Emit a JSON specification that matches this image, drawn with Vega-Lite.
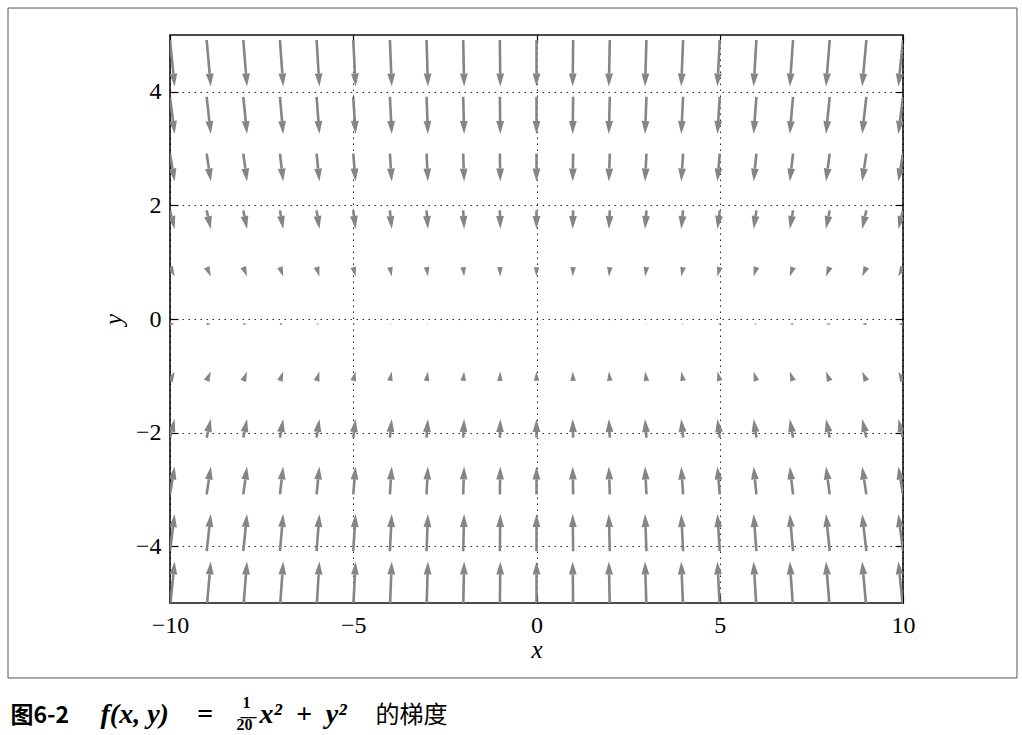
{
  "$schema": "https://vega.github.io/schema/vega-lite/v6.json",
  "width": 733,
  "height": 568,
  "autosize": {"type": "none"},
  "padding": {"left": 170, "top": 35, "right": 119, "bottom": 132},
  "background": "white",
  "config": {
    "view": {"stroke": "#111111", "strokeWidth": 1.6},
    "axis": {"labelColor": "#000", "titleColor": "#000"}
  },
  "data": {"values": [
{"x":-10,"y":5,"u":1,"v":-10},{"x":-9,"y":5,"u":0.9,"v":-10},{"x":-8,"y":5,"u":0.8,"v":-10},{"x":-7,"y":5,"u":0.7,"v":-10},{"x":-6,"y":5,"u":0.6,"v":-10},{"x":-5,"y":5,"u":0.5,"v":-10},{"x":-4,"y":5,"u":0.4,"v":-10},{"x":-3,"y":5,"u":0.3,"v":-10},{"x":-2,"y":5,"u":0.2,"v":-10},{"x":-1,"y":5,"u":0.1,"v":-10},{"x":0,"y":5,"u":0,"v":-10},{"x":1,"y":5,"u":-0.1,"v":-10},{"x":2,"y":5,"u":-0.2,"v":-10},{"x":3,"y":5,"u":-0.3,"v":-10},{"x":4,"y":5,"u":-0.4,"v":-10},{"x":5,"y":5,"u":-0.5,"v":-10},{"x":6,"y":5,"u":-0.6,"v":-10},{"x":7,"y":5,"u":-0.7,"v":-10},{"x":8,"y":5,"u":-0.8,"v":-10},{"x":9,"y":5,"u":-0.9,"v":-10},{"x":10,"y":5,"u":-1,"v":-10},
{"x":-10,"y":4,"u":1,"v":-8},{"x":-9,"y":4,"u":0.9,"v":-8},{"x":-8,"y":4,"u":0.8,"v":-8},{"x":-7,"y":4,"u":0.7,"v":-8},{"x":-6,"y":4,"u":0.6,"v":-8},{"x":-5,"y":4,"u":0.5,"v":-8},{"x":-4,"y":4,"u":0.4,"v":-8},{"x":-3,"y":4,"u":0.3,"v":-8},{"x":-2,"y":4,"u":0.2,"v":-8},{"x":-1,"y":4,"u":0.1,"v":-8},{"x":0,"y":4,"u":0,"v":-8},{"x":1,"y":4,"u":-0.1,"v":-8},{"x":2,"y":4,"u":-0.2,"v":-8},{"x":3,"y":4,"u":-0.3,"v":-8},{"x":4,"y":4,"u":-0.4,"v":-8},{"x":5,"y":4,"u":-0.5,"v":-8},{"x":6,"y":4,"u":-0.6,"v":-8},{"x":7,"y":4,"u":-0.7,"v":-8},{"x":8,"y":4,"u":-0.8,"v":-8},{"x":9,"y":4,"u":-0.9,"v":-8},{"x":10,"y":4,"u":-1,"v":-8},
{"x":-10,"y":3,"u":1,"v":-6},{"x":-9,"y":3,"u":0.9,"v":-6},{"x":-8,"y":3,"u":0.8,"v":-6},{"x":-7,"y":3,"u":0.7,"v":-6},{"x":-6,"y":3,"u":0.6,"v":-6},{"x":-5,"y":3,"u":0.5,"v":-6},{"x":-4,"y":3,"u":0.4,"v":-6},{"x":-3,"y":3,"u":0.3,"v":-6},{"x":-2,"y":3,"u":0.2,"v":-6},{"x":-1,"y":3,"u":0.1,"v":-6},{"x":0,"y":3,"u":0,"v":-6},{"x":1,"y":3,"u":-0.1,"v":-6},{"x":2,"y":3,"u":-0.2,"v":-6},{"x":3,"y":3,"u":-0.3,"v":-6},{"x":4,"y":3,"u":-0.4,"v":-6},{"x":5,"y":3,"u":-0.5,"v":-6},{"x":6,"y":3,"u":-0.6,"v":-6},{"x":7,"y":3,"u":-0.7,"v":-6},{"x":8,"y":3,"u":-0.8,"v":-6},{"x":9,"y":3,"u":-0.9,"v":-6},{"x":10,"y":3,"u":-1,"v":-6},
{"x":-10,"y":2,"u":1,"v":-4},{"x":-9,"y":2,"u":0.9,"v":-4},{"x":-8,"y":2,"u":0.8,"v":-4},{"x":-7,"y":2,"u":0.7,"v":-4},{"x":-6,"y":2,"u":0.6,"v":-4},{"x":-5,"y":2,"u":0.5,"v":-4},{"x":-4,"y":2,"u":0.4,"v":-4},{"x":-3,"y":2,"u":0.3,"v":-4},{"x":-2,"y":2,"u":0.2,"v":-4},{"x":-1,"y":2,"u":0.1,"v":-4},{"x":0,"y":2,"u":0,"v":-4},{"x":1,"y":2,"u":-0.1,"v":-4},{"x":2,"y":2,"u":-0.2,"v":-4},{"x":3,"y":2,"u":-0.3,"v":-4},{"x":4,"y":2,"u":-0.4,"v":-4},{"x":5,"y":2,"u":-0.5,"v":-4},{"x":6,"y":2,"u":-0.6,"v":-4},{"x":7,"y":2,"u":-0.7,"v":-4},{"x":8,"y":2,"u":-0.8,"v":-4},{"x":9,"y":2,"u":-0.9,"v":-4},{"x":10,"y":2,"u":-1,"v":-4},
{"x":-10,"y":1,"u":1,"v":-2},{"x":-9,"y":1,"u":0.9,"v":-2},{"x":-8,"y":1,"u":0.8,"v":-2},{"x":-7,"y":1,"u":0.7,"v":-2},{"x":-6,"y":1,"u":0.6,"v":-2},{"x":-5,"y":1,"u":0.5,"v":-2},{"x":-4,"y":1,"u":0.4,"v":-2},{"x":-3,"y":1,"u":0.3,"v":-2},{"x":-2,"y":1,"u":0.2,"v":-2},{"x":-1,"y":1,"u":0.1,"v":-2},{"x":0,"y":1,"u":0,"v":-2},{"x":1,"y":1,"u":-0.1,"v":-2},{"x":2,"y":1,"u":-0.2,"v":-2},{"x":3,"y":1,"u":-0.3,"v":-2},{"x":4,"y":1,"u":-0.4,"v":-2},{"x":5,"y":1,"u":-0.5,"v":-2},{"x":6,"y":1,"u":-0.6,"v":-2},{"x":7,"y":1,"u":-0.7,"v":-2},{"x":8,"y":1,"u":-0.8,"v":-2},{"x":9,"y":1,"u":-0.9,"v":-2},{"x":10,"y":1,"u":-1,"v":-2},
{"x":-10,"y":0,"u":1,"v":0},{"x":-9,"y":0,"u":0.9,"v":0},{"x":-8,"y":0,"u":0.8,"v":0},{"x":-7,"y":0,"u":0.7,"v":0},{"x":-6,"y":0,"u":0.6,"v":0},{"x":-5,"y":0,"u":0.5,"v":0},{"x":-4,"y":0,"u":0.4,"v":0},{"x":-3,"y":0,"u":0.3,"v":0},{"x":-2,"y":0,"u":0.2,"v":0},{"x":-1,"y":0,"u":0.1,"v":0},{"x":0,"y":0,"u":0,"v":0},{"x":1,"y":0,"u":-0.1,"v":0},{"x":2,"y":0,"u":-0.2,"v":0},{"x":3,"y":0,"u":-0.3,"v":0},{"x":4,"y":0,"u":-0.4,"v":0},{"x":5,"y":0,"u":-0.5,"v":0},{"x":6,"y":0,"u":-0.6,"v":0},{"x":7,"y":0,"u":-0.7,"v":0},{"x":8,"y":0,"u":-0.8,"v":0},{"x":9,"y":0,"u":-0.9,"v":0},{"x":10,"y":0,"u":-1,"v":0},
{"x":-10,"y":-1,"u":1,"v":2},{"x":-9,"y":-1,"u":0.9,"v":2},{"x":-8,"y":-1,"u":0.8,"v":2},{"x":-7,"y":-1,"u":0.7,"v":2},{"x":-6,"y":-1,"u":0.6,"v":2},{"x":-5,"y":-1,"u":0.5,"v":2},{"x":-4,"y":-1,"u":0.4,"v":2},{"x":-3,"y":-1,"u":0.3,"v":2},{"x":-2,"y":-1,"u":0.2,"v":2},{"x":-1,"y":-1,"u":0.1,"v":2},{"x":0,"y":-1,"u":0,"v":2},{"x":1,"y":-1,"u":-0.1,"v":2},{"x":2,"y":-1,"u":-0.2,"v":2},{"x":3,"y":-1,"u":-0.3,"v":2},{"x":4,"y":-1,"u":-0.4,"v":2},{"x":5,"y":-1,"u":-0.5,"v":2},{"x":6,"y":-1,"u":-0.6,"v":2},{"x":7,"y":-1,"u":-0.7,"v":2},{"x":8,"y":-1,"u":-0.8,"v":2},{"x":9,"y":-1,"u":-0.9,"v":2},{"x":10,"y":-1,"u":-1,"v":2},
{"x":-10,"y":-2,"u":1,"v":4},{"x":-9,"y":-2,"u":0.9,"v":4},{"x":-8,"y":-2,"u":0.8,"v":4},{"x":-7,"y":-2,"u":0.7,"v":4},{"x":-6,"y":-2,"u":0.6,"v":4},{"x":-5,"y":-2,"u":0.5,"v":4},{"x":-4,"y":-2,"u":0.4,"v":4},{"x":-3,"y":-2,"u":0.3,"v":4},{"x":-2,"y":-2,"u":0.2,"v":4},{"x":-1,"y":-2,"u":0.1,"v":4},{"x":0,"y":-2,"u":0,"v":4},{"x":1,"y":-2,"u":-0.1,"v":4},{"x":2,"y":-2,"u":-0.2,"v":4},{"x":3,"y":-2,"u":-0.3,"v":4},{"x":4,"y":-2,"u":-0.4,"v":4},{"x":5,"y":-2,"u":-0.5,"v":4},{"x":6,"y":-2,"u":-0.6,"v":4},{"x":7,"y":-2,"u":-0.7,"v":4},{"x":8,"y":-2,"u":-0.8,"v":4},{"x":9,"y":-2,"u":-0.9,"v":4},{"x":10,"y":-2,"u":-1,"v":4},
{"x":-10,"y":-3,"u":1,"v":6},{"x":-9,"y":-3,"u":0.9,"v":6},{"x":-8,"y":-3,"u":0.8,"v":6},{"x":-7,"y":-3,"u":0.7,"v":6},{"x":-6,"y":-3,"u":0.6,"v":6},{"x":-5,"y":-3,"u":0.5,"v":6},{"x":-4,"y":-3,"u":0.4,"v":6},{"x":-3,"y":-3,"u":0.3,"v":6},{"x":-2,"y":-3,"u":0.2,"v":6},{"x":-1,"y":-3,"u":0.1,"v":6},{"x":0,"y":-3,"u":0,"v":6},{"x":1,"y":-3,"u":-0.1,"v":6},{"x":2,"y":-3,"u":-0.2,"v":6},{"x":3,"y":-3,"u":-0.3,"v":6},{"x":4,"y":-3,"u":-0.4,"v":6},{"x":5,"y":-3,"u":-0.5,"v":6},{"x":6,"y":-3,"u":-0.6,"v":6},{"x":7,"y":-3,"u":-0.7,"v":6},{"x":8,"y":-3,"u":-0.8,"v":6},{"x":9,"y":-3,"u":-0.9,"v":6},{"x":10,"y":-3,"u":-1,"v":6},
{"x":-10,"y":-4,"u":1,"v":8},{"x":-9,"y":-4,"u":0.9,"v":8},{"x":-8,"y":-4,"u":0.8,"v":8},{"x":-7,"y":-4,"u":0.7,"v":8},{"x":-6,"y":-4,"u":0.6,"v":8},{"x":-5,"y":-4,"u":0.5,"v":8},{"x":-4,"y":-4,"u":0.4,"v":8},{"x":-3,"y":-4,"u":0.3,"v":8},{"x":-2,"y":-4,"u":0.2,"v":8},{"x":-1,"y":-4,"u":0.1,"v":8},{"x":0,"y":-4,"u":0,"v":8},{"x":1,"y":-4,"u":-0.1,"v":8},{"x":2,"y":-4,"u":-0.2,"v":8},{"x":3,"y":-4,"u":-0.3,"v":8},{"x":4,"y":-4,"u":-0.4,"v":8},{"x":5,"y":-4,"u":-0.5,"v":8},{"x":6,"y":-4,"u":-0.6,"v":8},{"x":7,"y":-4,"u":-0.7,"v":8},{"x":8,"y":-4,"u":-0.8,"v":8},{"x":9,"y":-4,"u":-0.9,"v":8},{"x":10,"y":-4,"u":-1,"v":8},
{"x":-10,"y":-5,"u":1,"v":10},{"x":-9,"y":-5,"u":0.9,"v":10},{"x":-8,"y":-5,"u":0.8,"v":10},{"x":-7,"y":-5,"u":0.7,"v":10},{"x":-6,"y":-5,"u":0.6,"v":10},{"x":-5,"y":-5,"u":0.5,"v":10},{"x":-4,"y":-5,"u":0.4,"v":10},{"x":-3,"y":-5,"u":0.3,"v":10},{"x":-2,"y":-5,"u":0.2,"v":10},{"x":-1,"y":-5,"u":0.1,"v":10},{"x":0,"y":-5,"u":0,"v":10},{"x":1,"y":-5,"u":-0.1,"v":10},{"x":2,"y":-5,"u":-0.2,"v":10},{"x":3,"y":-5,"u":-0.3,"v":10},{"x":4,"y":-5,"u":-0.4,"v":10},{"x":5,"y":-5,"u":-0.5,"v":10},{"x":6,"y":-5,"u":-0.6,"v":10},{"x":7,"y":-5,"u":-0.7,"v":10},{"x":8,"y":-5,"u":-0.8,"v":10},{"x":9,"y":-5,"u":-0.9,"v":10},{"x":10,"y":-5,"u":-1,"v":10}
  ]},
  "transform": [
    {"calculate": "4.65*sqrt(datum.u*datum.u+datum.v*datum.v)", "as": "L"},
    {"calculate": "min(13, datum.L)", "as": "h"},
    {"calculate": "datum.x + 4.65*datum.u/36.65", "as": "xt"},
    {"calculate": "datum.y + 4.65*datum.v/56.8", "as": "yt"},
    {"calculate": "datum.L > 0 ? datum.xt - datum.h*4.65*datum.u/datum.L/36.65 : datum.x", "as": "xs"},
    {"calculate": "datum.L > 0 ? datum.yt - datum.h*4.65*datum.v/datum.L/56.8 : datum.y", "as": "ys"},
    {"calculate": "atan2(-datum.u, -datum.v)*180/PI", "as": "ang"},
    {"calculate": "4*datum.h*datum.h", "as": "sz"}
  ],
  "resolve": {"axis": {"x": "independent", "y": "independent"}},
  "layer": [
    {
      "data": {"values": [{}]},
      "mark": {"type": "rect", "fill": null, "fillOpacity": 0, "stroke": "#555555", "strokeWidth": 1, "clip": false},
      "encoding": {
        "x": {"datum": -14.42, "type": "quantitative", "scale": {"domain": [-10, 10], "nice": false, "zero": false},
          "axis": {"orient": "bottom", "labels": false, "ticks": false, "domain": false, "grid": false,
            "title": "图6-2", "titleX": -160, "titleY": 119, "titleAlign": "left", "titleAnchor": null, "titleBaseline": "alphabetic", "titleAngle": 0,
            "titleFont": "Noto Sans CJK SC", "titleFontWeight": "bold", "titleFontSize": 23}},
        "x2": {"datum": 13.11},
        "y": {"datum": 5.475, "type": "quantitative", "scale": {"domain": [-5, 5], "nice": false, "zero": false}, "axis": null},
        "y2": {"datum": -6.32}
      }
    },
    {
      "mark": {"type": "rule", "color": "#858585", "strokeWidth": 2.6, "strokeCap": "butt", "clip": true, "yOffset": 5, "y2Offset": 5},
      "encoding": {
        "x": {"field": "x", "type": "quantitative",
          "axis": {"orient": "bottom", "values": [-10, -5, 0, 5, 10], "ticks": false, "domain": false,
            "grid": true, "gridColor": "#000", "gridDash": [1.5, 4.5], "gridWidth": 1, "gridOpacity": 0.85,
            "labelFont": "'Liberation Serif', 'DejaVu Serif', serif", "labelFontSize": 24, "labelPadding": 10, "labelFlush": false,
            "title": "x", "titleFont": "'Liberation Serif', 'DejaVu Serif', serif", "titleFontStyle": "italic", "titleFontWeight": "normal", "titleFontSize": 25,
            "titleY": 54, "titleBaseline": "alphabetic"}},
        "x2": {"field": "xs"},
        "y": {"field": "y", "type": "quantitative",
          "axis": {"orient": "left", "values": [-4, -2, 0, 2, 4], "ticks": false, "domain": false,
            "grid": true, "gridColor": "#000", "gridDash": [1.5, 4.5], "gridWidth": 1, "gridOpacity": 0.85,
            "labelFont": "'Liberation Serif', 'DejaVu Serif', serif", "labelFontSize": 24, "labelPadding": 9,
            "title": "y", "titleFont": "'Liberation Serif', 'DejaVu Serif', serif", "titleFontStyle": "italic", "titleFontWeight": "normal", "titleFontSize": 25,
            "titleX": -49, "titleY": 284, "titleAngle": -90, "titleBaseline": "alphabetic", "titleAlign": "center"}},
        "y2": {"field": "ys"}
      }
    },
    {
      "mark": {"type": "point", "shape": "M -0.3 -1 L 0.3 -1 L 0 0 Z", "filled": true, "color": "#858585", "opacity": 1, "strokeWidth": 0, "clip": true, "yOffset": 5},
      "encoding": {
        "x": {"field": "xt", "type": "quantitative",
          "axis": {"orient": "bottom", "values": [-10, -5, 0, 5, 10], "labels": false, "domain": false, "grid": false,
            "ticks": true, "tickSize": -8, "tickColor": "#000", "tickWidth": 1.2, "title": null}},
        "y": {"field": "yt", "type": "quantitative",
          "axis": {"orient": "left", "values": [-4, -2, 0, 2, 4], "labels": false, "domain": false, "grid": false,
            "ticks": true, "tickSize": -8, "tickColor": "#000", "tickWidth": 1.2, "title": null}},
        "size": {"field": "sz", "type": "quantitative", "scale": null, "legend": null},
        "angle": {"field": "ang", "type": "quantitative", "scale": null, "legend": null}
      }
    },
    {
      "data": {"values": [{}]},
      "mark": {"type": "point", "opacity": 0},
      "encoding": {
        "x": {"datum": 0, "type": "quantitative",
          "axis": {"orient": "top", "values": [-10, -5, 0, 5, 10], "labels": false, "domain": false, "grid": false,
            "ticks": true, "tickSize": -8, "tickColor": "#000", "tickWidth": 1.2, "title": null}},
        "y": {"datum": 0, "type": "quantitative",
          "axis": {"orient": "right", "values": [-4, -2, 0, 2, 4], "labels": false, "domain": false, "grid": false,
            "ticks": true, "tickSize": -8, "tickColor": "#000", "tickWidth": 1.2, "title": null}}
      }
    },
    {
      "data": {"values": [{}]},
      "mark": {"type": "point", "opacity": 0},
      "encoding": {
        "x": {"datum": 0, "type": "quantitative",
          "axis": {"orient": "bottom", "labels": false, "ticks": false, "domain": false, "grid": false,
            "title": "f(x, y)\u2002\u2002=", "titleX": -70, "titleY": 119, "titleAlign": "left", "titleAnchor": null, "titleBaseline": "alphabetic", "titleAngle": 0,
            "titleFont": "'Liberation Serif', 'DejaVu Serif', serif", "titleFontWeight": "bold", "titleFontStyle": "italic", "titleFontSize": 28}},
        "y": {"datum": 0, "type": "quantitative", "axis": null}
      }
    },
    {
      "data": {"values": [{}]},
      "mark": {"type": "point", "opacity": 0},
      "encoding": {
        "x": {"datum": 0, "type": "quantitative",
          "axis": {"orient": "bottom", "labels": false, "ticks": false, "domain": false, "grid": false,
            "title": "1", "titleX": 72, "titleY": 104, "titleAlign": "left", "titleAnchor": null, "titleBaseline": "alphabetic", "titleAngle": 0,
            "titleFont": "'Liberation Serif', 'DejaVu Serif', serif", "titleFontWeight": "bold", "titleFontSize": 16}},
        "y": {"datum": 0, "type": "quantitative", "axis": null}
      }
    },
    {
      "data": {"values": [{}]},
      "mark": {"type": "point", "opacity": 0},
      "encoding": {
        "x": {"datum": 0, "type": "quantitative",
          "axis": {"orient": "bottom", "labels": false, "ticks": false, "domain": false, "grid": false,
            "title": "2\u03050\u0305", "titleX": 66, "titleY": 126, "titleAlign": "left", "titleAnchor": null, "titleBaseline": "alphabetic", "titleAngle": 0,
            "titleFont": "'Liberation Serif', 'DejaVu Serif', serif", "titleFontWeight": "bold", "titleFontSize": 16}},
        "y": {"datum": 0, "type": "quantitative", "axis": null}
      }
    },
    {
      "data": {"values": [{}]},
      "mark": {"type": "point", "opacity": 0},
      "encoding": {
        "x": {"datum": 0, "type": "quantitative",
          "axis": {"orient": "bottom", "labels": false, "ticks": false, "domain": false, "grid": false,
            "title": "x²\u2002+\u2002y²", "titleX": 89, "titleY": 119, "titleAlign": "left", "titleAnchor": null, "titleBaseline": "alphabetic", "titleAngle": 0,
            "titleFont": "'Liberation Serif', 'DejaVu Serif', serif", "titleFontWeight": "bold", "titleFontStyle": "italic", "titleFontSize": 28}},
        "y": {"datum": 0, "type": "quantitative", "axis": null}
      }
    },
    {
      "data": {"values": [{}]},
      "mark": {"type": "point", "opacity": 0},
      "encoding": {
        "x": {"datum": 0, "type": "quantitative",
          "axis": {"orient": "bottom", "labels": false, "ticks": false, "domain": false, "grid": false,
            "title": "的梯度", "titleX": 205, "titleY": 119, "titleAlign": "left", "titleAnchor": null, "titleBaseline": "alphabetic", "titleAngle": 0,
            "titleFont": "Noto Sans CJK SC", "titleFontWeight": "normal", "titleFontSize": 24}},
        "y": {"datum": 0, "type": "quantitative", "axis": null}
      }
    }
  ]
}
